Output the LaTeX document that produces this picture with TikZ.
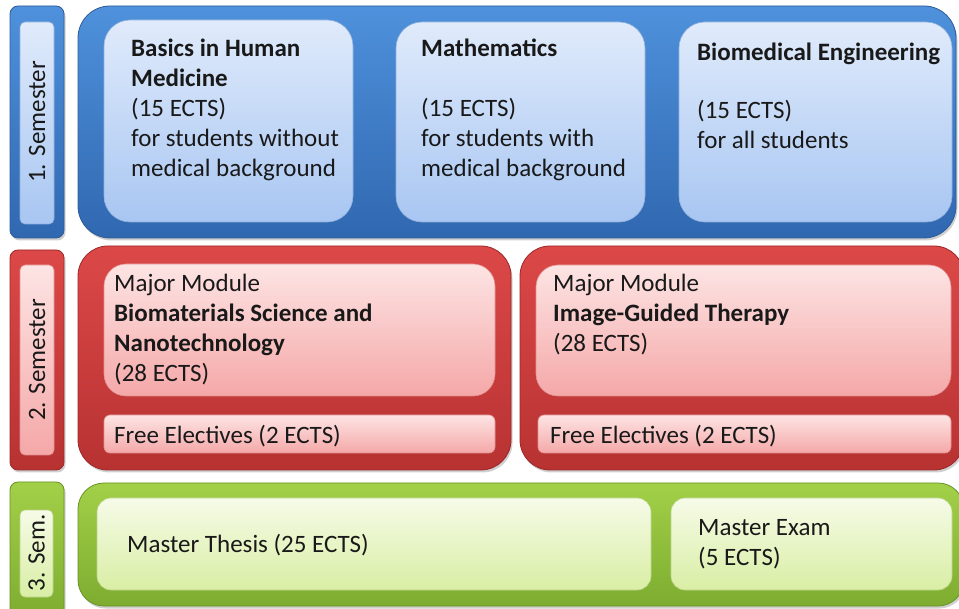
\documentclass[tikz,border=0pt]{standalone}
\usepackage{fontspec}
\setmainfont{Carlito}
\usetikzlibrary{shadows}
\definecolor{blueOt}{HTML}{4F91DC}
\definecolor{blueOb}{HTML}{3068B0}
\definecolor{blueOd}{HTML}{2E5C98}
\definecolor{blueIt}{HTML}{E0EBFB}
\definecolor{blueIb}{HTML}{A8C6F2}
\definecolor{blueId}{HTML}{8FB0DC}
\definecolor{redOt}{HTML}{DC4848}
\definecolor{redOb}{HTML}{B83232}
\definecolor{redOd}{HTML}{9A2828}
\definecolor{redIt}{HTML}{FDE4E4}
\definecolor{redIb}{HTML}{F5A8A8}
\definecolor{redId}{HTML}{E09090}
\definecolor{grnOt}{HTML}{A2D048}
\definecolor{grnOb}{HTML}{7EAC30}
\definecolor{grnOd}{HTML}{6A9226}
\definecolor{grnIt}{HTML}{F6FBE8}
\definecolor{grnIb}{HTML}{D9EEA4}
\definecolor{grnId}{HTML}{B8D488}
\tikzset{
  shadowed/.style={drop shadow={shadow xshift=1.5pt,shadow yshift=-2.5pt,opacity=0.3,fill=black!60}},
  blueouter/.style={shadowed,top color=blueOt,bottom color=blueOb,draw=blueOd,line width=0.8pt},
  blueinner/.style={top color=blueIt,bottom color=blueIb,draw=blueId,line width=0.6pt},
  redouter/.style={shadowed,top color=redOt,bottom color=redOb,draw=redOd,line width=0.8pt},
  redinner/.style={top color=redIt,bottom color=redIb,draw=redId,line width=0.6pt},
  grnouter/.style={shadowed,top color=grnOt,bottom color=grnOb,draw=grnOd,line width=0.8pt},
  grninner/.style={top color=grnIt,bottom color=grnIb,draw=grnId,line width=0.6pt},
  txt/.style={anchor=north west,inner sep=0pt,align=left,font=\fontsize{25}{30}\selectfont,text=black!90},
  lbl/.style={rotate=90,inner sep=0pt,font=\fontsize{25}{28}\selectfont,text=black!90}
}
\begin{document}
\begin{tikzpicture}[x=1pt,y=-1pt]
\useasboundingbox[fill=white] (0,0) rectangle (959,609);
% ---------- Semester 1 ----------
\path[blueouter,rounded corners=8pt] (10,6) rectangle (64,238);
\path[blueinner,rounded corners=5pt] (20,22) rectangle (54,224);
\node[lbl] (l1) at (37,122) {1. Semester};
\path[blueouter,rounded corners=32pt] (78,6) rectangle (956,238);
\path[blueinner,rounded corners=26pt] (104,20) rectangle (353,222);
\path[blueinner,rounded corners=26pt] (396,22) rectangle (645,222);
\path[blueinner,rounded corners=26pt] (679,22) rectangle (952,222);
\node[txt] (b1) at (131,39) {\textbf{Basics in Human}\\\textbf{Medicine}\\(15 ECTS)\\for students without\\medical background};
\node[txt] (b2) at (421,39) {\textbf{Mathematics}\\[30pt](15 ECTS)\\for students with\\medical background};
\node[txt] (b3) at (697,43) {\textbf{Biomedical Engineering}\\[28pt](15 ECTS)\\for all students};
% ---------- Semester 2 ----------
\path[redouter,rounded corners=8pt] (10,250) rectangle (64,470);
\path[redinner,rounded corners=5pt] (20,265) rectangle (54,455);
\node[lbl] (l2) at (37,360) {2. Semester};
\path[redouter,rounded corners=30pt] (78,246) rectangle (511,470);
\path[redinner,rounded corners=22pt] (104,264) rectangle (495,396);
\path[redinner,rounded corners=6pt] (104,415) rectangle (495,453);
\path[redouter,rounded corners=30pt] (520,246) rectangle (964,470);
\path[redinner,rounded corners=22pt] (536,265) rectangle (951,396);
\path[redinner,rounded corners=6pt] (538,415) rectangle (951,453);
\node[txt] (r1) at (114,274) {Major Module\\\textbf{Biomaterials Science and}\\\textbf{Nanotechnology}\\(28 ECTS)};
\node[txt] (r2) at (553,274) {Major Module\\\textbf{Image-Guided Therapy}\\(28 ECTS)};
\node[txt] (f1) at (114,425) {Free Electives (2 ECTS)};
\node[txt] (f2) at (550,425) {Free Electives (2 ECTS)};
% ---------- Semester 3 ----------
\path[grnouter,rounded corners=8pt] (10,482) rectangle (64,618);
\path[grninner,rounded corners=5pt] (20,510) rectangle (53,597);
\node[lbl] (l3) at (36.5,553) {3. Sem.};
\path[grnouter,rounded corners=26pt] (78,483) rectangle (964,606);
\path[grninner,rounded corners=14pt] (97,498) rectangle (651,590);
\path[grninner,rounded corners=14pt] (671,498) rectangle (952,590);
\node[txt] (m1) at (127,534) {Master Thesis (25 ECTS)};
\node[txt] (m2) at (698,519) {Master Exam\\(5 ECTS)};
\end{tikzpicture}
\end{document}
